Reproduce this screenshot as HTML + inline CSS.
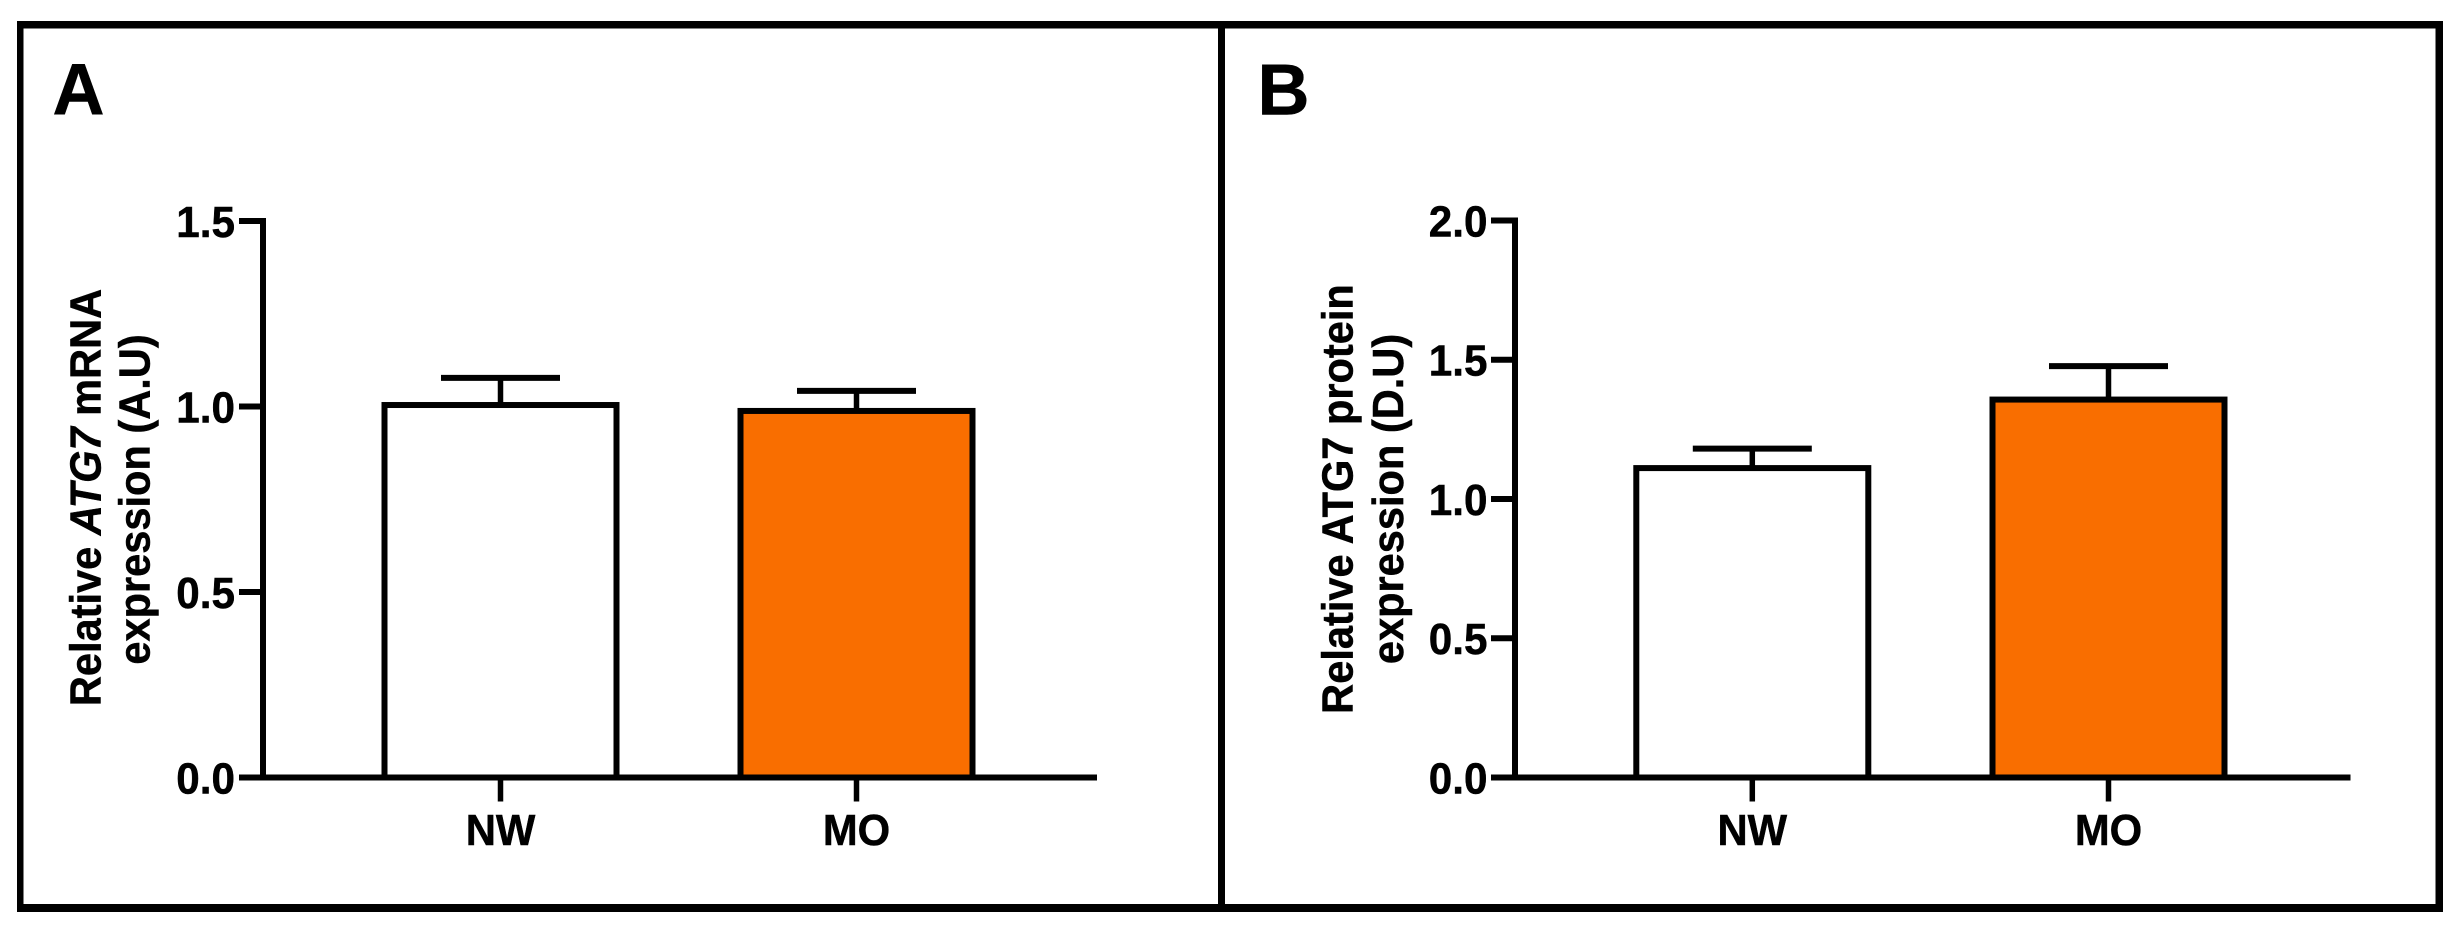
<!DOCTYPE html>
<html lang="en">
<head>
<meta charset="utf-8">
<title>ATG7 expression</title>
<style>
html,body{margin:0;padding:0;background:#fff;width:2462px;height:929px;overflow:hidden}
svg{display:block}
text{font-family:"Liberation Sans",Arial,sans-serif;font-weight:700;fill:#000;stroke:#000;stroke-width:.5px}
</style>
</head>
<body>
<svg id="figure" xmlns="http://www.w3.org/2000/svg" width="2462" height="929" viewBox="0 0 2462 929">
  <rect x="0" y="0" width="2462" height="929" fill="#fff"/>
  <g fill="#000">
    <rect x="17" y="21" width="2426" height="7.5"/>
    <rect x="17" y="904" width="2426" height="8"/>
    <rect x="17" y="21" width="6.5" height="891"/>
    <rect x="2435.5" y="21" width="7.5" height="891"/>
    <rect x="1218" y="21" width="7" height="891"/>
  </g>
  <text x="52.5" y="114" font-size="72">A</text>
  <text x="1257.5" y="114.5" font-size="72">B</text>

  <text font-size="44" text-anchor="middle" transform="translate(100.5,497.5) rotate(-90) scale(.945,1)">Relative <tspan font-style="italic">ATG7</tspan> mRNA</text>
  <text font-size="44" text-anchor="middle" transform="translate(149.5,499.5) rotate(-90) scale(.945,1)">expression (A.U)</text>
  <text font-size="44" text-anchor="middle" transform="translate(1352.7,499) rotate(-90) scale(.945,1)">Relative ATG7 protein</text>
  <text font-size="44" text-anchor="middle" transform="translate(1403,499) rotate(-90) scale(.945,1)">expression (D.U)</text>

  <g id="chart-a"></g>
  <g id="chart-b"></g>
</svg>
<script>
const categories = ['NW', 'MO'];
const barFills = ['#ffffff', '#f96e00'];

const meansA = [1.004, 0.988];
const errorsA = [0.073, 0.054];
const ticksA = ['0.0', '0.5', '1.0', '1.5'];

const meansB = [1.111, 1.357];
const errorsB = [0.070, 0.120];
const ticksB = ['0.0', '0.5', '1.0', '1.5', '2.0'];

const SVG_NS = 'http://www.w3.org/2000/svg';

function make(tag, parent, props) {
  const el = document.createElementNS(SVG_NS, tag);
  for (const k in props) el.setAttribute(k, props[k]);
  parent.appendChild(el);
  return el;
}

function drawChart(root, layout, means, errors, ticks) {
  const yMax = parseFloat(ticks[ticks.length - 1]);
  const yScale = v => layout.yBase - (v / yMax) * (layout.yBase - layout.yTop);
  const xScale = i => layout.xFirst + i * layout.xStep;
  const lw = 6;

  ticks.forEach(t => {
    const y = yScale(parseFloat(t));
    const tick = make('line', root, {x1: layout.axisX - 24, x2: layout.axisX, y1: y, y2: y, stroke: '#000', 'stroke-width': lw});
    
    
    const label = make('text', root, {'font-size': 44, 'text-anchor': 'end', transform: 'translate(' + layout.labelX + ',' + (y + 15.8) + ') scale(.96,1)'});
    label.textContent = t;
    
    
  });

  categories.forEach((c, i) => {
    const cx = xScale(i);
    const top = yScale(means[i]);
    const errTop = yScale(means[i] + errors[i]);

    const stem = make('line', root, {x1: cx, x2: cx, y1: top, y2: errTop, stroke: '#000', 'stroke-width': 5.5});
    
    

    const cap = make('line', root, {x1: cx - layout.capHalf, x2: cx + layout.capHalf, y1: errTop, y2: errTop, stroke: '#000', 'stroke-width': lw});
    
    

    const bar = make('rect', root, {x: cx - layout.barHalf, y: top, width: layout.barHalf * 2, height: layout.yBase - top, fill: barFills[i], stroke: '#000', 'stroke-width': lw});
    
    

    const xTick = make('line', root, {x1: cx, x2: cx, y1: layout.yBase, y2: layout.yBase + 24, stroke: '#000', 'stroke-width': 5.5});
    
    

    const xLabel = make('text', root, {'font-size': 44, 'text-anchor': 'middle', transform: 'translate(' + cx + ',845) scale(.95,1)'});
    xLabel.textContent = c;
    
    
  });

  const yAxis = make('line', root, {x1: layout.axisX, x2: layout.axisX, y1: layout.yTop - lw / 2, y2: layout.yBase, stroke: '#000', 'stroke-width': lw});
  
  

  const xAxis = make('line', root, {x1: layout.axisX - 24, x2: layout.axisEnd, y1: layout.yBase, y2: layout.yBase, stroke: '#000', 'stroke-width': lw});
  
  
}

drawChart(document.getElementById('chart-a'),
  {axisX: 263, axisEnd: 1097, labelX: 235, yBase: 777.5, yTop: 221, xFirst: 500.5, xStep: 356, barHalf: 116, capHalf: 59.5},
  meansA, errorsA, ticksA);

drawChart(document.getElementById('chart-b'),
  {axisX: 1515, axisEnd: 2350.5, labelX: 1487.5, yBase: 777.5, yTop: 220.5, xFirst: 1752.3, xStep: 356.2, barHalf: 116, capHalf: 59.5},
  meansB, errorsB, ticksB);
</script>
</body>
</html>
